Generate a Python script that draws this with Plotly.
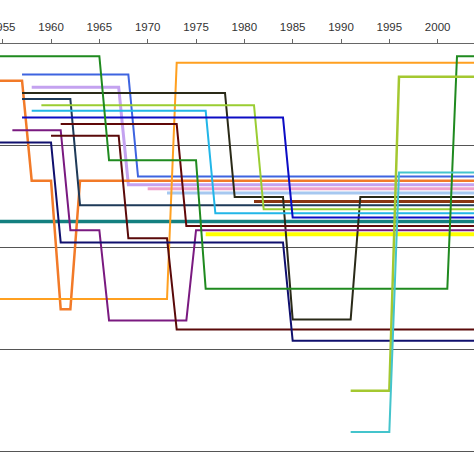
import plotly.graph_objects as go

# Year ticks
tick_years = [1955, 1960, 1965, 1970, 1975, 1980, 1985, 1990, 1995, 2000]
tick_labels = [str(y) for y in tick_years]

# Series: breakpoint years and values (value axis grows downward)
green_x = [1954, 1965, 1966, 1975, 1976, 2001, 2002, 2004]
green_y = [1.2, 1.2, 11.4, 11.4, 24.0, 24.0, 1.2, 1.2]

royal_x = [1957, 1968, 1969, 2004]
royal_y = [3.0, 3.0, 13.0, 13.0]

orange_x = [1954, 1957, 1958, 1960, 1961, 1962, 1963, 2004]
orange_y = [3.6, 3.6, 13.4, 13.4, 26.0, 26.0, 13.4, 13.4]

lightorange_x = [1954, 1972, 1973, 2004]
lightorange_y = [25.0, 25.0, 1.85, 1.85]

lavender_x = [1958, 1967, 1968, 2004]
lavender_y = [4.25, 4.25, 13.8, 13.8]

black_x = [1957, 1978, 1979, 1984, 1985, 1991, 1992, 2004]
black_y = [4.8, 4.8, 15.0, 15.0, 27.0, 27.0, 15.0, 15.0]

slate_x = [1957, 1962, 1963, 2004]
slate_y = [5.4, 5.4, 15.8, 15.8]

ygreen_x = [1959, 1981, 1982, 2004]
ygreen_y = [6.0, 6.0, 16.2, 16.2]

sky_x = [1958, 1976, 1977, 2004]
sky_y = [6.55, 6.55, 16.6, 16.6]

mblue_x = [1957, 1984, 1985, 2004]
mblue_y = [7.2, 7.2, 17.0, 17.0]

darkred_x = [1961, 1973, 1974, 2004]
darkred_y = [7.85, 7.85, 17.85, 17.85]

purple_x = [1956, 1961, 1962, 1965, 1966, 1974, 1975, 2004]
purple_y = [8.45, 8.45, 18.25, 18.25, 27.1, 27.1, 18.25, 18.25]

maroon_x = [1960, 1967, 1968, 1972, 1973, 2004]
maroon_y = [9.0, 9.0, 19.05, 19.05, 28.0, 28.0]

navy_x = [1954, 1960, 1961, 1984, 1985, 2004]
navy_y = [9.65, 9.65, 19.45, 19.45, 29.1, 29.1]

teal_x = [1954, 2004]
teal_y = [17.4, 17.4]

pink_x = [1970, 2004]
pink_y = [14.2, 14.2]

steel_x = [1972, 2004]
steel_y = [14.6, 14.6]

yellow_x = [1976, 2004]
yellow_y = [18.65, 18.65]

brown_x = [1981, 2004]
brown_y = [15.45, 15.45]

ygreen2_x = [1991, 1995, 1996, 2004]
ygreen2_y = [34.0, 34.0, 3.2, 3.2]

cyan_x = [1991, 1995, 1996, 2004]
cyan_y = [38.05, 38.05, 12.6, 12.6]

series = [
    (teal_x, teal_y, "#148080", 3.5),
    (yellow_x, yellow_y, "#FFFF00", 4),
    (pink_x, pink_y, "#F0A0CC", 3),
    (steel_x, steel_y, "#A6C8F0", 3),
    (lavender_x, lavender_y, "#C4A2F0", 3),
    (brown_x, brown_y, "#8B3510", 3),
    (royal_x, royal_y, "#3E64E0", 2),
    (orange_x, orange_y, "#F27A28", 2.5),
    (lightorange_x, lightorange_y, "#FFA020", 2),
    (black_x, black_y, "#2A2A18", 2),
    (slate_x, slate_y, "#1E3A58", 2),
    (ygreen_x, ygreen_y, "#9ACD32", 2),
    (sky_x, sky_y, "#22B6E8", 2),
    (mblue_x, mblue_y, "#0C0CC4", 2),
    (darkred_x, darkred_y, "#600808", 2),
    (purple_x, purple_y, "#7A1A80", 2),
    (maroon_x, maroon_y, "#5A0A0A", 2),
    (navy_x, navy_y, "#10106E", 2),
    (green_x, green_y, "#1F8A1F", 2),
    (ygreen2_x, ygreen2_y, "#A4C830", 2.5),
    (cyan_x, cyan_y, "#44C4CC", 2),
]

fig = go.Figure()
for xs, ys, col, w in series:
    fig.add_trace(go.Scatter(x=xs, y=ys, mode="lines",
                             line=dict(color=col, width=w),
                             showlegend=False, hoverinfo="skip"))

fig.update_layout(
    width=474, height=474,
    margin=dict(l=0, r=0, t=44, b=0, autoexpand=False),
    plot_bgcolor="white", paper_bgcolor="white",
    font=dict(family="Liberation Sans, Arial, sans-serif", size=11.5, color="#333333"),
)
fig.update_xaxes(
    side="top", range=[1954.72, 2003.76],
    tickvals=tick_years, ticktext=tick_labels,
    showgrid=False, zeroline=False, automargin=False,
    showline=True, linecolor="#666666", linewidth=1,
    ticks="outside", ticklen=4, tickcolor="#666666",
    ticklabelstandoff=3, ticklabeloverflow="allow",
)
fig.update_yaxes(
    range=[42.16, 0], showticklabels=False, automargin=False,
    tickvals=[0, 10, 20, 30, 40], showgrid=True,
    gridcolor="#555555", gridwidth=1, zeroline=False,
)

fig.write_html("out.html")
